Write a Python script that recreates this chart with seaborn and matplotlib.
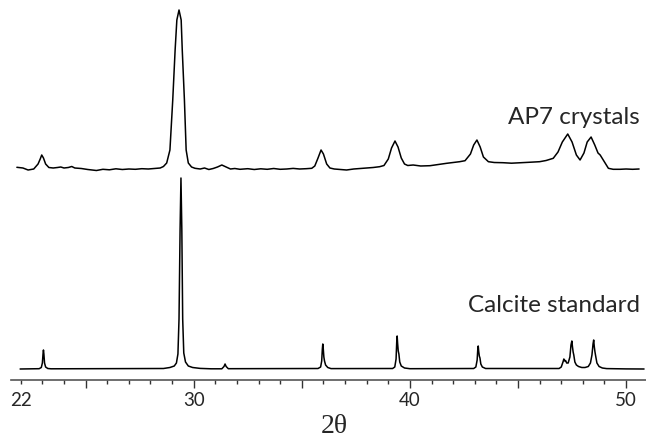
import pandas as pd
import matplotlib.pyplot as plt
import seaborn as sns
from matplotlib.ticker import MultipleLocator

# AP7 crystals pattern: 2-theta (deg) and intensity above its baseline (a.u.)
ap7_2theta = [
    21.82, 22.1, 22.34, 22.6, 22.8, 22.9, 22.97, 23.05, 23.15, 23.3, 23.5, 23.7,
    23.85, 24.0, 24.2, 24.36, 24.5, 24.8, 25.1, 25.5, 25.8, 26.1, 26.4, 26.7,
    27.0, 27.3, 27.6, 27.9, 28.2, 28.45, 28.6, 28.75, 28.9, 29.03, 29.14, 29.22,
    29.32, 29.42, 29.47, 29.57, 29.65, 29.75, 29.9, 30.06, 30.3, 30.5, 30.7, 30.9,
    31.1, 31.3, 31.5, 31.7, 31.9, 32.14, 32.5, 32.8, 33.1, 33.4, 33.7, 34.0,
    34.3, 34.6, 34.9, 35.2, 35.46, 35.6, 35.75, 35.89, 36.0, 36.15, 36.3, 36.5,
    36.8, 37.07, 37.4, 37.7, 38.0, 38.3, 38.6, 38.8, 39.0, 39.15, 39.31, 39.45,
    39.6, 39.75, 39.9, 40.15, 40.5, 40.93, 41.3, 41.7, 42.0, 42.3, 42.55, 42.8,
    42.95, 43.1, 43.25, 43.4, 43.63, 43.9, 44.3, 44.7, 45.1, 45.5, 46.0, 46.3,
    46.63, 46.85, 47.05, 47.3, 47.5, 47.7, 47.87, 48.05, 48.2, 48.38, 48.55, 48.7,
    48.8, 49.0, 49.18, 49.4, 49.72, 50.0, 50.3, 50.6,
]
ap7_counts = [
    1.7, 1.0, -1.0, 0.0, 5.0, 10.0, 14.0, 11.0, 5.0, 1.5, 1.0, 1.5,
    2.0, 1.0, 1.5, 2.5, 1.0, 0.5, -0.5, -1.5, -0.3, -0.8, 0.2, -0.5,
    0.0, -0.3, 0.3, 0.0, 0.5, 1.0, 2.5, 6.0, 19.0, 69.0, 119.0, 149.0,
    159.0, 149.0, 119.0, 69.0, 19.0, 6.0, 2.0, 0.7, 0.0, 1.0, -0.5, 0.5,
    2.0, 4.0, 2.0, 0.0, 0.5, -0.3, 0.3, -0.5, 0.2, -0.3, 0.5, -0.3,
    0.0, 0.6, 0.0, 0.3, 0.7, 3.0, 11.0, 19.0, 15.0, 5.0, 1.0, 0.0,
    -0.5, -1.0, 0.0, 0.5, 1.0, 1.5, 2.3, 3.5, 10.0, 21.0, 28.0, 22.0,
    11.0, 5.0, 3.5, 4.0, 3.0, 3.3, 4.5, 5.7, 6.5, 7.3, 8.3, 15.0,
    24.0, 29.0, 22.0, 12.0, 7.3, 6.5, 6.3, 5.8, 6.3, 6.7, 7.3, 8.5,
    10.7, 17.0, 27.0, 35.0, 27.0, 14.0, 9.0, 16.0, 27.0, 32.0, 24.0, 16.0,
    14.0, 7.0, 0.7, -0.3, -0.3, 0.0, -0.3, 0.0,
]

# Calcite standard pattern
calcite_2theta = [
    21.97, 22.85, 22.95, 23.0, 23.03, 23.05, 23.07, 23.1, 23.15, 23.25, 23.4,
    28.6, 28.9, 29.1, 29.2, 29.27, 29.32, 29.37, 29.41, 29.45, 29.49, 29.54,
    29.62, 29.75, 29.95, 30.3, 30.8, 31.3, 31.4, 31.45, 31.5, 31.6,
    35.75, 35.87, 35.92, 35.95, 35.97, 35.99, 36.02, 36.05, 36.1, 36.2, 36.35,
    39.2, 39.3, 39.36, 39.39, 39.41, 39.43, 39.46, 39.49, 39.53, 39.6, 39.75, 40.0,
    42.95, 43.05, 43.11, 43.14, 43.16, 43.18, 43.21, 43.24, 43.28, 43.35, 43.5,
    46.9, 47.0, 47.08, 47.12, 47.16, 47.2, 47.25, 47.32, 47.4, 47.45, 47.49,
    47.52, 47.55, 47.58, 47.63, 47.7, 47.8, 47.95, 48.1, 48.25, 48.35, 48.42,
    48.47, 48.5, 48.53, 48.56, 48.6, 48.65, 48.75, 48.9, 49.1, 50.0, 50.83,
]
calcite_counts = [
    0.0, 0.3, 1.5, 6.0, 15.0, 19.0, 15.0, 6.0, 2.0, 0.5, 0.2,
    0.5, 1.5, 3.0, 6.0, 15.0, 50.0, 140.0, 191.0, 140.0, 50.0, 16.0,
    7.0, 3.0, 1.5, 0.6, 0.2, 0.2, 2.5, 5.0, 2.5, 0.3,
    0.5, 2.0, 8.0, 20.0, 25.0, 21.0, 12.0, 8.0, 4.0, 1.5, 0.4,
    0.5, 2.0, 10.0, 27.0, 33.0, 26.0, 18.0, 15.0, 7.0, 3.0, 1.0, 0.3,
    0.5, 2.0, 9.0, 20.0, 23.0, 18.0, 13.0, 11.0, 5.0, 2.0, 0.5,
    0.5, 2.0, 7.0, 10.0, 8.0, 8.5, 6.0, 6.0, 12.0, 24.0, 28.0,
    22.0, 17.0, 14.0, 7.0, 4.0, 2.5, 1.5, 1.5, 2.5, 6.0, 14.0,
    25.0, 29.0, 22.0, 17.0, 12.0, 6.0, 2.5, 1.0, 0.4, 0.1, 0.0,
]

ap7_offset = 211
calcite_offset = 11

ap7 = pd.DataFrame({"two_theta": ap7_2theta,
                    "intensity": [c + ap7_offset for c in ap7_counts]})
calcite = pd.DataFrame({"two_theta": calcite_2theta,
                        "intensity": [c + calcite_offset for c in calcite_counts]})

sns.set_theme(style="white")
plt.rcParams["font.family"] = ["Lato", "DejaVu Sans"]

fig = plt.figure(figsize=(6.46, 4.4), dpi=100)
ax = fig.add_axes([0, 60 / 440, 1, 380 / 440])

sns.lineplot(data=ap7, x="two_theta", y="intensity", color="black",
             linewidth=1.1, estimator=None, sort=False, ax=ax)
sns.lineplot(data=calcite, x="two_theta", y="intensity", color="black",
             linewidth=1.1, estimator=None, sort=False, ax=ax)

ax.set_xlim(21.04, 50.92)
ax.set_ylim(0, 380)
ax.set_xlabel("")
ax.set_ylabel("")
ax.set_yticks([])

for side in ["left", "top", "right"]:
    ax.spines[side].set_visible(False)
ax.spines["bottom"].set_bounds(21.55, 50.92)
ax.spines["bottom"].set_color("#555555")
ax.spines["bottom"].set_linewidth(1.2)

ax.set_xticks([22, 25, 30, 35, 40, 45, 50])
ax.set_xticklabels(["22", "", "30", "", "40", "", "50"])
ax.xaxis.set_minor_locator(MultipleLocator(1))
ax.tick_params(axis="x", which="major", direction="out", length=5.8, width=1,
               color="#333333", pad=3, labelsize=13.5, bottom=True)
ax.tick_params(axis="x", which="minor", direction="out", length=3, width=1,
               color="#333333", bottom=True)
ax.xaxis.get_major_ticks()[0].tick1line.set_markersize(3)

ax.text(50.64, 256.5, "AP7 crystals", ha="right", va="baseline", fontsize=17.5)
ax.text(50.64, 68, "Calcite standard", ha="right", va="baseline", fontsize=17.5)

fig.text(0.518, 0.003, "2θ", ha="center", va="bottom", fontsize=20,
         family=["Liberation Serif", "DejaVu Serif"])

fig.savefig("out.png", dpi=100)
